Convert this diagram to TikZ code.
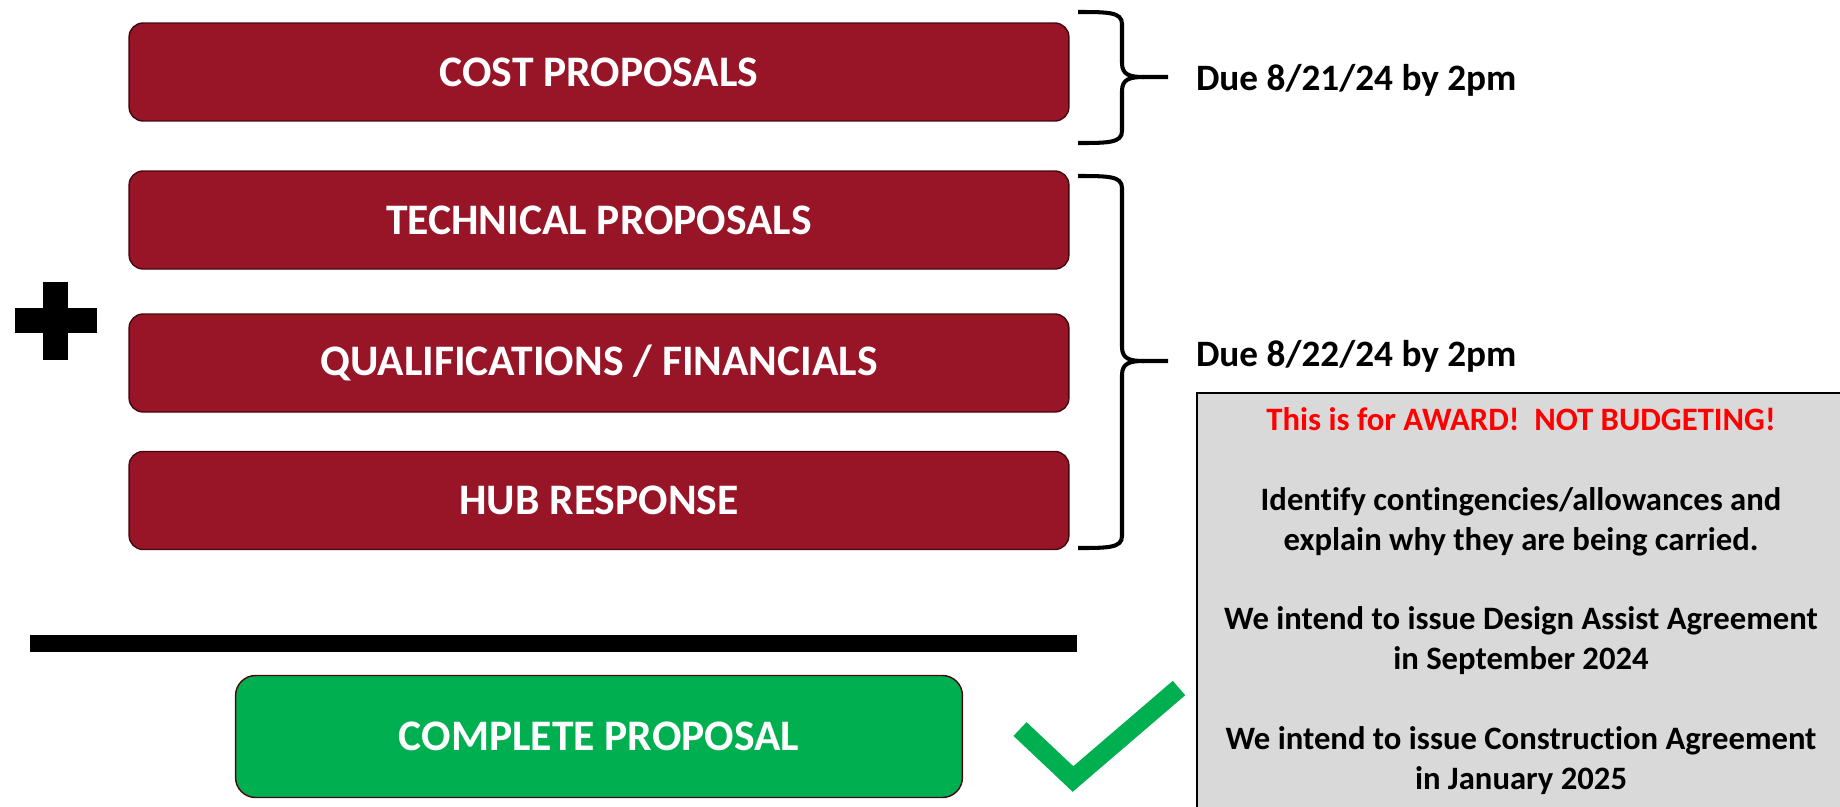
\documentclass[tikz,border=0pt]{standalone}
\usepackage{fontspec}
\setmainfont{Carlito}[Ligatures=NoCommon]
\usepackage{tikz}
\usetikzlibrary{positioning,calc}

\definecolor{boxred}{RGB}{152,21,40}
\definecolor{boxedge}{RGB}{70,8,16}
\definecolor{okgreen}{RGB}{0,176,80}
\definecolor{notegray}{RGB}{217,217,217}
\definecolor{warnred}{RGB}{255,0,0}

\begin{document}
\begin{tikzpicture}[x=0.02cm, y=-0.02cm, line join=miter,
                    every node/.style={outer sep=0pt}]

  \tikzset{
    part/.style={rectangle, rounded corners=0.28cm, draw=boxedge, fill=boxred, line width=0.8pt,
                 minimum width=18.8cm, minimum height=1.96cm, text=white,
                 font=\fontsize{24.8}{29}\selectfont\bfseries},
    whole/.style={part, fill=okgreen, rounded corners=0.4cm, minimum width=14.54cm, minimum height=2.44cm},
    brace/.style={line width=2.3pt, draw=black, line cap=butt},
    due/.style={anchor=west, inner sep=0pt, font=\fontsize{21.2}{25}\selectfont\bfseries},
    notebox/.style={draw=black, fill=notegray, line width=1.2pt}
  }

  \useasboundingbox (0,0) rectangle (1840,806);

  % the four parts
  \node[part] (cost) at (599,72)    {COST PROPOSALS};
  \node[part] (tech) at (599,220)   {TECHNICAL PROPOSALS};
  \node[part] (qual) at (599,363)   {QUALIFICATIONS / FINANCIALS};
  \node[part] (hub)  at (599,500.5) {HUB RESPONSE};

  % plus sign
  \fill (15,308) rectangle (97,333);
  \fill (43,282) rectangle (68,360);

  % braces and due dates
  \foreach \yt/\ym/\yb in {12/77/143, 176/361/548} {
    \draw[brace] (1078,\yt) .. controls (1108,\yt) and (1122,\yt) .. (1122,\yt+12)
      -- (1122,\ym-14) .. controls (1122,\ym-2) and (1130,\ym) .. (1144,\ym) -- (1168,\ym);
    \draw[brace] (1078,\yb) .. controls (1108,\yb) and (1122,\yb) .. (1122,\yb-12)
      -- (1122,\ym+14) .. controls (1122,\ym+2) and (1130,\ym) .. (1144,\ym);
  }
  \node[due] (due1) at (1196,80)  {Due 8/21/24 by 2pm};
  \node[due] (due2) at (1196,356) {Due 8/22/24 by 2pm};

  % sum line and result
  \fill (30,635) rectangle (1077,652);
  \node[whole] (done) at (599,736.5) {COMPLETE PROPOSAL};
  \draw[okgreen, line width=0.38cm] (1020,729) -- (1073,779) -- (1179,688);

  % note box
  \begin{scope}
    \clip (0,0) rectangle (1840,806);
    \draw[notebox] (1197,393) rectangle (1860,830);
  \end{scope}
  \node[align=center, font=\fontsize{18.6}{22.7}\selectfont\bfseries] (note) at (1521,601)
    {\textcolor{warnred}{This is for AWARD!\ \ NOT BUDGETING!}\\[22.7pt]
     Identify contingencies/allowances and\\
     explain why they are being carried.\\[22.7pt]
     We intend to issue Design Assist Agreement\\
     in September 2024\\[22.7pt]
     We intend to issue Construction Agreement\\
     in January 2025};
\end{tikzpicture}
\end{document}
